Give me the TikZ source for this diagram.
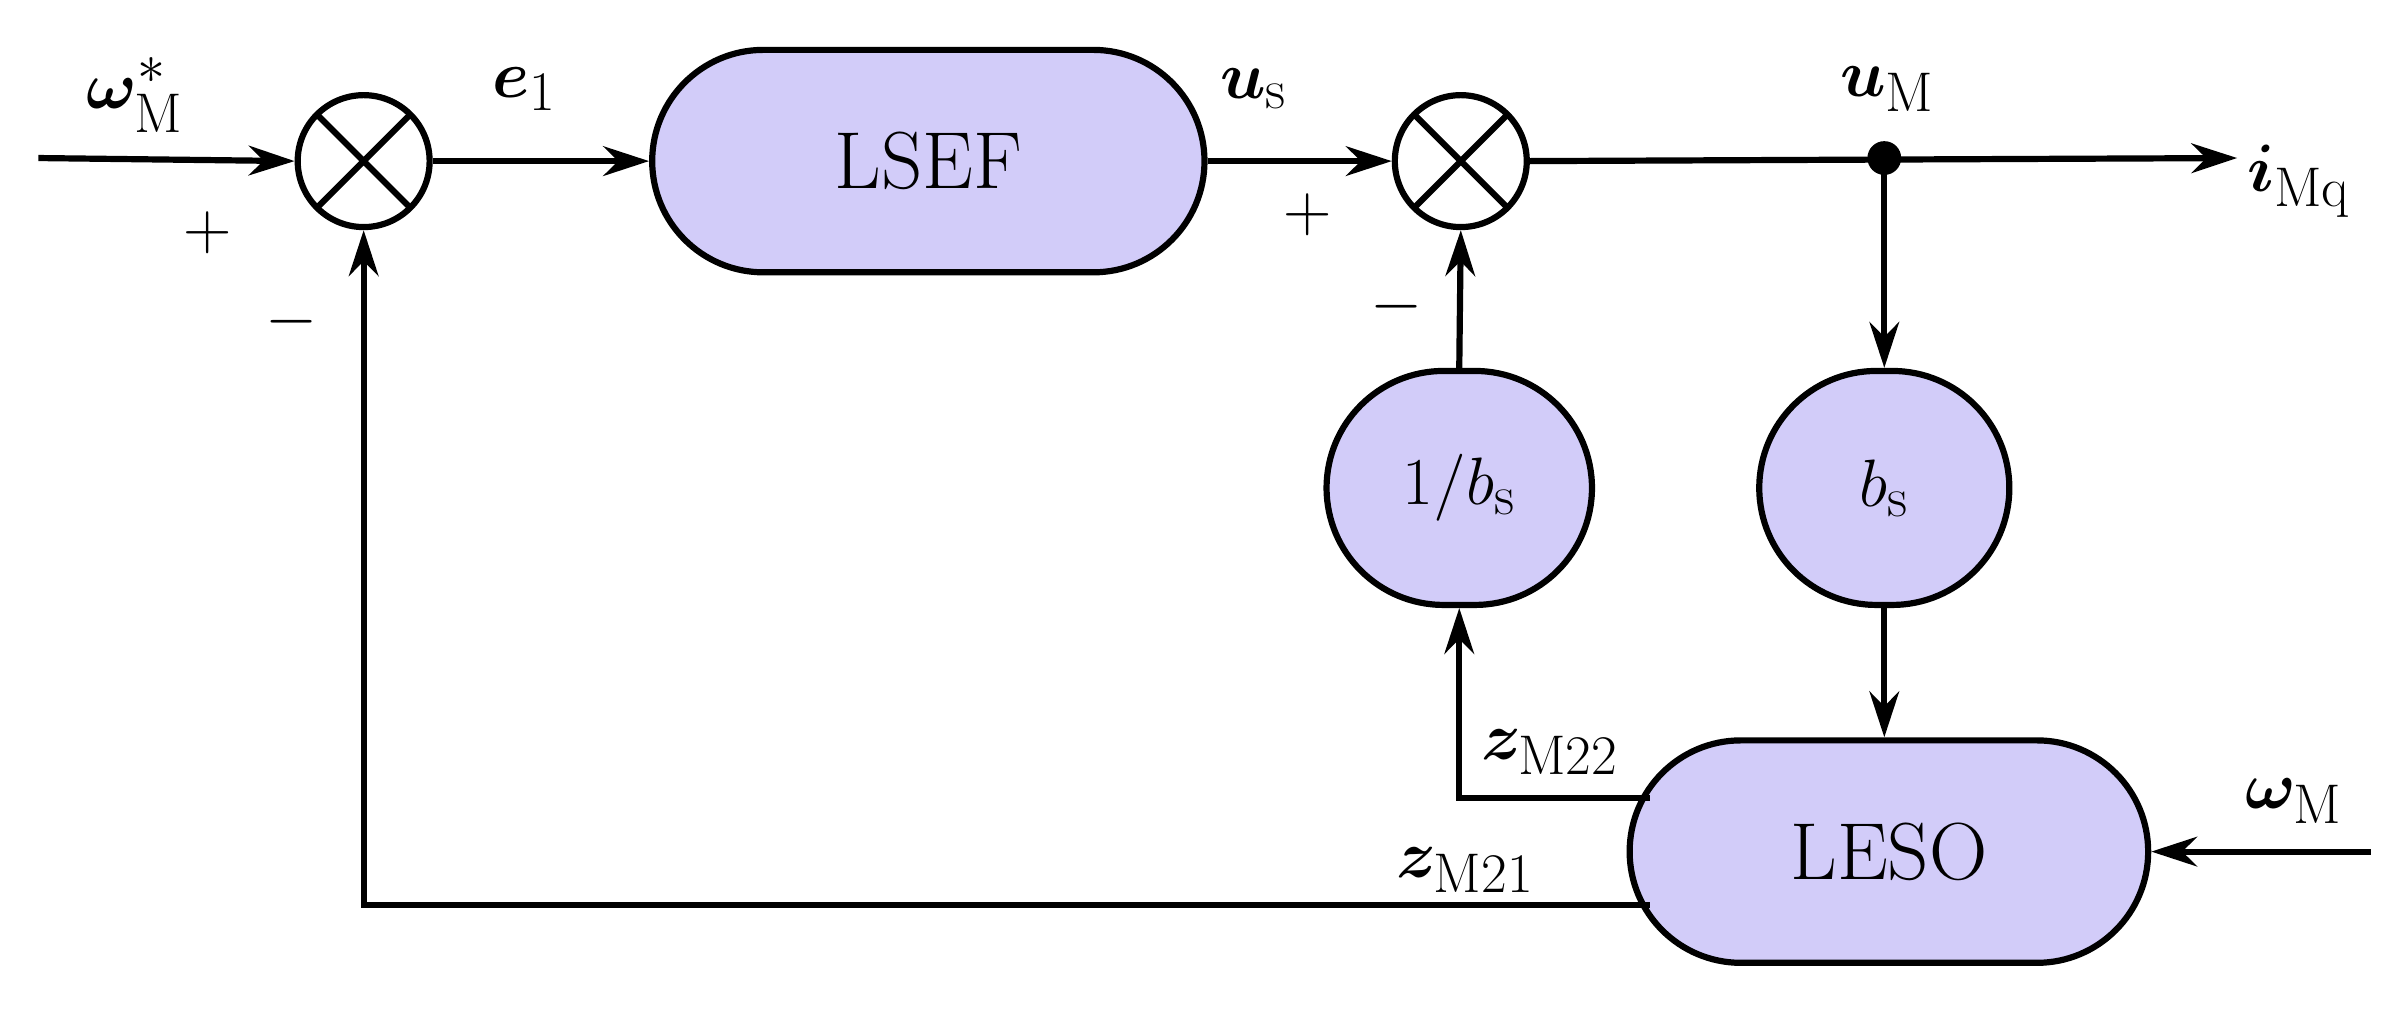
\documentclass[tikz,border=0pt]{standalone}
\usepackage{amsmath,bm}
\usetikzlibrary{arrows.meta,shapes.misc}
\begin{document}
\begin{tikzpicture}[x=0.02cm,y=-0.02cm,line width=2.3pt,
  every node/.style={font=\fontsize{30}{36}\selectfont},
  blk/.style={draw,fill=violet!25!blue!20,rounded rectangle,minimum height=2.9cm,inner sep=0pt},
  sum/.style={draw,circle,minimum size=1.72cm,inner sep=0pt,
    path picture={\draw[line width=2.3pt] (path picture bounding box.south west)--(path picture bounding box.north east)
      (path picture bounding box.north west)--(path picture bounding box.south east);}},
  arr/.style={-{Stealth[length=17pt,width=11pt]}},
  lab/.style={font=\fontsize{30}{36}\selectfont}]
\useasboundingbox (0,0) rectangle (1568,661);
\node[sum] (s1) at (237,105) {};
\node[sum] (s2) at (952,105) {};
\node[blk,minimum width=7.2cm] (lsef) at (605,105) {LSEF};
\node[blk,minimum width=3.46cm,minimum height=3.05cm,rounded rectangle arc length=180] (inv) at (951,318) {$1/b_{\mathrm{s}}$};
\node[blk,minimum width=3.26cm,minimum height=3.05cm] (bs) at (1228,318) {$b_{\mathrm{s}}$};
\node[blk,minimum width=6.76cm] (leso) at (1231,555) {LESO};
\fill (1228,103) circle (11) coordinate (dot);
\coordinate (in) at (25,103);
\coordinate (out) at (1458,103);
\coordinate (win) at (1545,555);
\draw[arr] (in) -- (s1.west);
\draw[arr] (s1.east) -- (lsef.west);
\draw[arr] (lsef.east) -- (s2.west);
\draw[arr] (s2.east) -- (out);
\draw[arr] (dot) -- (bs.north);
\draw[arr] (bs.south) -- (leso.north-|bs.south);
\draw[arr] (inv.north) -- (s2.south);
\draw[arr] (win) -- (leso.east);
\coordinate (a22) at (1075,520);
\coordinate (a21) at (1075,590);
\draw[arr] (a22) -- (951,520) -- (inv.south);
\draw[arr] (a21) -- (237,590) -- (s1.south);
\node[lab] at (88,62) {$\bm{\omega}^{*}_{\mathrm{M}}$};
\node[lab] at (135,152) {$+$};
\node[lab] at (190,210) {$-$};
\node[lab] at (342,58) {$\bm{e}_1$};
\node[lab] at (817,58) {$\bm{u}_{\mathrm{s}}$};
\node[lab] at (852,140) {$+$};
\node[lab] at (910,200) {$-$};
\node[lab] at (1230,58) {$\bm{u}_{\mathrm{M}}$};
\node[lab] at (1498,118) {$\bm{i}_{\mathrm{Mq}}$};
\node[lab] at (1010,490) {$\bm{z}_{\mathrm{M}22}$};
\node[lab] at (955,567) {$\bm{z}_{\mathrm{M}21}$};
\node[lab] at (1495,522) {$\bm{\omega}_{\mathrm{M}}$};
\end{tikzpicture}
\end{document}
